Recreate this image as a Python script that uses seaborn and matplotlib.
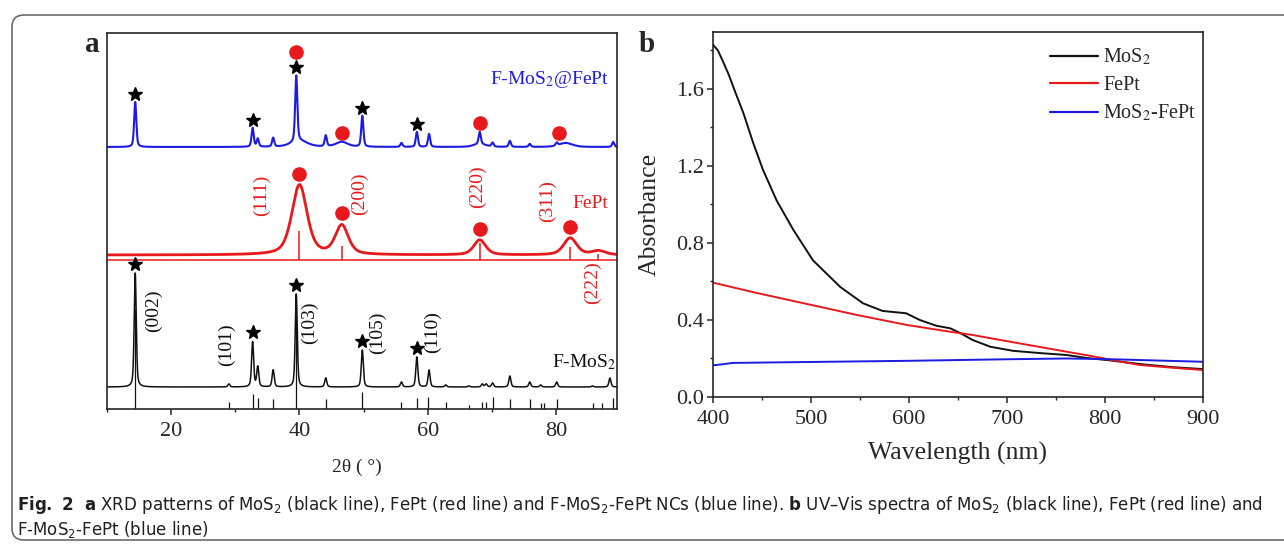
import numpy as np
import pandas as pd
import matplotlib
matplotlib.use("Agg")
import matplotlib.pyplot as plt
import matplotlib.transforms as mtransforms
from matplotlib import font_manager
from matplotlib.patches import FancyBboxPatch
from matplotlib.ticker import MultipleLocator, FormatStrFormatter
import seaborn as sns

# ---------------- panel a: XRD patterns ----------------
# F-MoS2 reflections (2theta in degrees, intensity in a.u.)
mos2_peak_pos = [14.4, 29.0, 32.7, 33.5, 35.9, 39.5, 44.1, 49.8, 55.9, 58.3,
                 60.2, 62.8, 66.4, 68.5, 69.1, 70.1, 72.8, 75.9, 77.6, 80.1,
                 85.7, 88.4]
mos2_peak_int = [114, 3, 45, 20, 17, 93, 9, 37, 5, 30,
                 17, 2, 1, 3, 3, 4, 11, 5, 2, 5,
                 1, 9]
# MoS2 reference stick pattern
mos2_ref_pos = [14.4, 29.0, 32.7, 33.5, 35.9, 39.5, 44.2, 49.8, 55.9, 58.3,
                60.1, 62.8, 66.5, 68.5, 69.1, 70.1, 72.8, 75.9, 77.6, 78.1,
                80.1, 85.7, 87.1, 88.9]
mos2_ref_int = [100, 7, 15, 11, 10, 90, 10, 17, 7, 11,
                12, 7, 4, 7, 7, 12, 10, 10, 6, 6,
                10, 6, 6, 11]

# FePt nanocrystals (fcc)
fept_peak_pos = [40.0, 46.6, 68.1, 82.2, 86.6]
fept_peak_int = [70, 29, 15, 17, 4]
fept_peak_fwhm = [2.8, 2.4, 2.2, 2.4, 2.5]
fept_ref_pos = [40.0, 46.6, 68.1, 82.2, 86.6]
fept_ref_int = [29, 14, 17, 13, 6]
fept_hkl = ["(111)", "(200)", "(220)", "(311)", "(222)"]

# F-MoS2@FePt composite
hybrid_peak_pos = [14.4, 32.7, 33.5, 35.9, 39.5, 44.1, 49.8, 55.9, 58.3, 60.2,
                   68.1, 70.1, 72.8, 75.9, 80.1, 88.9, 40.0, 46.6, 68.1, 81.5]
hybrid_peak_int = [45, 19, 8, 9, 66, 11, 31, 4, 15, 13,
                   12, 4, 6, 3, 3, 5, 6, 5, 3, 4]
hybrid_peak_fwhm = [0.4, 0.4, 0.4, 0.4, 0.4, 0.4, 0.4, 0.4, 0.4, 0.4,
                    0.4, 0.4, 0.4, 0.4, 0.4, 0.4, 3.0, 2.2, 2.2, 2.5]

mos2_star_pos = [14.4, 32.7, 39.5, 49.8, 58.3]
hybrid_star_pos = [14.4, 32.7, 39.5, 49.8, 58.3]
hybrid_dot_pos = [39.5, 46.6, 68.1, 80.5]
fept_dot_pos = [40.0, 46.6, 68.1, 82.2]
mos2_hkl = ["(002)", "(101)", "(103)", "(105)", "(110)"]

# ---------------- panel b: UV-Vis spectra ----------------
mos2_wl = [400, 405, 410, 416, 423, 431, 441, 451, 465, 482, 502, 530, 553, 573,
           597, 611, 628, 642, 652, 665, 683, 706, 734, 761, 782, 802, 836, 869, 900]
mos2_abs = [1.83, 1.80, 1.745, 1.675, 1.58, 1.475, 1.32, 1.18, 1.02, 0.868,
            0.71, 0.571, 0.487, 0.447, 0.435, 0.40, 0.37, 0.357, 0.333, 0.296,
            0.261, 0.24, 0.228, 0.218, 0.202, 0.192, 0.171, 0.155, 0.145]
fept_wl = [400, 445, 496, 547, 598, 642, 665, 700, 750, 798, 802, 836, 869, 900]
fept_abs = [0.594, 0.54, 0.483, 0.426, 0.374, 0.339, 0.322, 0.29, 0.245, 0.202,
            0.196, 0.166, 0.152, 0.14]
hybrid_wl = [400, 410, 420, 500, 600, 700, 760, 800, 850, 900]
hybrid_abs = [0.165, 0.17, 0.177, 0.182, 0.188, 0.196, 0.2, 0.197, 0.19, 0.183]

RED = "#e8191c"
BLUE = "#1c1ce0"
BLACK = "#111111"

W, H = 1284, 544

sns.set_style("ticks")
plt.rcParams["font.family"] = ["Liberation Serif", "DejaVu Serif"]
plt.rcParams["mathtext.fontset"] = "stix"
plt.rcParams["axes.linewidth"] = 1.2


def condensed_available():
    try:
        path = font_manager.findfont(
            font_manager.FontProperties(family="DejaVu Sans", stretch="condensed"),
            fallback_to_default=False)
        return "Condensed" in path
    except Exception:
        return False


if condensed_available():
    cap_family, cap_stretch = "DejaVu Sans", "condensed"
    plt.rcParams["mathtext.rm"] = "DejaVu Sans:stretch=condensed"
    plt.rcParams["mathtext.bf"] = "DejaVu Sans:stretch=condensed:weight=bold"
else:
    cap_family, cap_stretch = "Liberation Sans", "normal"
    plt.rcParams["mathtext.rm"] = "Liberation Sans"
    plt.rcParams["mathtext.bf"] = "Liberation Sans:bold"

fig = plt.figure(figsize=(W / 100, H / 100), dpi=100)
fig.patch.set_facecolor("white")


def box(l, t, r, b):
    return [l / W, 1 - b / H, (r - l) / W, (b - t) / H]


def fxy(x, y):
    return x / W, 1 - y / H


def pv(x, c, h, w, eta=0.45):
    u = (x - c) / w
    return h * (eta / (1 + 4 * u ** 2) + (1 - eta) * np.exp(-4 * np.log(2) * u ** 2))


# ------------- panel a -------------
ax = fig.add_axes(box(107, 33, 617, 409))
tt = np.linspace(10, 89.5, 6000)

base_mos2, base_fept, line_fept, base_hyb = 22, 154, 149, 262

mos2_trace = base_mos2 + sum(pv(tt, c, h, 0.38) for c, h in zip(mos2_peak_pos, mos2_peak_int))
fept_trace = base_fept + sum(pv(tt, c, h, w, 0.5) for c, h, w in
                             zip(fept_peak_pos, fept_peak_int, fept_peak_fwhm))
hyb_trace = base_hyb + sum(pv(tt, c, h, w) for c, h, w in
                           zip(hybrid_peak_pos, hybrid_peak_int, hybrid_peak_fwhm))

df_a = pd.DataFrame({"tt": tt, "mos2": mos2_trace, "fept": fept_trace, "hyb": hyb_trace})
sns.lineplot(data=df_a, x="tt", y="mos2", ax=ax, color=BLACK, lw=1.1, estimator=None)
sns.lineplot(data=df_a, x="tt", y="fept", ax=ax, color=RED, lw=2.0, estimator=None)
sns.lineplot(data=df_a, x="tt", y="hyb", ax=ax, color=BLUE, lw=1.5, estimator=None)

# reference stick patterns
ax.vlines(mos2_ref_pos, 0, mos2_ref_int, color=BLACK, lw=0.9)
ax.axhline(line_fept, color=RED, lw=1.1)
ax.vlines(fept_ref_pos, line_fept, [line_fept + v for v in fept_ref_int], color=RED, lw=1.1)


def top_of(trace, x0, half=0.6):
    m = (tt > x0 - half) & (tt < x0 + half)
    return trace[m].max()


star_kw = dict(marker="*", ls="", color="black", ms=10, mec="black")
dot_kw = dict(marker="o", ls="", color=RED, ms=9.5, mec=RED)

ax.plot(mos2_star_pos, [top_of(mos2_trace, p) + 9 for p in mos2_star_pos], **star_kw)
hyb_star_y = [top_of(hyb_trace, p) + 8 for p in hybrid_star_pos]
ax.plot(hybrid_star_pos, hyb_star_y, **star_kw)
hyb_dot_y = []
for p in hybrid_dot_pos:
    if p in hybrid_star_pos:
        hyb_dot_y.append(hyb_star_y[hybrid_star_pos.index(p)] + 15)
    else:
        hyb_dot_y.append(top_of(hyb_trace, p, 1.2) + 9)
ax.plot(hybrid_dot_pos, hyb_dot_y, **dot_kw)
ax.plot(fept_dot_pos, [top_of(fept_trace, p) + 11 for p in fept_dot_pos], **dot_kw)

lab_fs = 14
for s, x, y in zip(mos2_hkl, [17.2, 28.7, 41.6, 52.1, 60.7], [98, 64, 86, 76, 77]):
    ax.text(x, y, s, rotation=90, ha="center", va="center", fontsize=lab_fs, color=BLACK)
for s, x, y in zip(fept_hkl, [34.1, 49.3, 67.7, 78.6, 85.6], [214, 215, 222, 208, 126]):
    ax.text(x, y, s, rotation=90, ha="center", va="center", fontsize=lab_fs, color=RED)
ax.text(84.3, 47, "F-MoS$_2$", ha="center", va="center", fontsize=lab_fs, color=BLACK)
ax.text(85.4, 206, "FePt", ha="center", va="center", fontsize=lab_fs, color=RED)
ax.text(79.0, 329, "F-MoS$_2$@FePt", ha="center", va="center", fontsize=lab_fs, color=BLUE)

ax.set_xlim(10, 89.5)
ax.set_ylim(0, 376)
ax.set_yticks([])
ax.xaxis.set_major_locator(MultipleLocator(20))
ax.xaxis.set_minor_locator(MultipleLocator(10))
ax.tick_params(axis="x", which="major", direction="out", length=4, width=1.1,
               labelsize=16, pad=5, top=False)
ax.tick_params(axis="x", which="minor", direction="out", length=2.5, width=1.0, top=False)
ax.set_xlabel("")
ax.set_ylabel("")
for sp in ax.spines.values():
    sp.set_visible(True)
    sp.set_linewidth(1.2)

# ------------- panel b -------------
bx = fig.add_axes(box(713, 32, 1203, 397))
df_b = pd.concat([
    pd.DataFrame({"wl": mos2_wl, "A": mos2_abs, "sample": "MoS$_2$"}),
    pd.DataFrame({"wl": fept_wl, "A": fept_abs, "sample": "FePt"}),
    pd.DataFrame({"wl": hybrid_wl, "A": hybrid_abs, "sample": "MoS$_2$-FePt"}),
], ignore_index=True)
sns.lineplot(data=df_b, x="wl", y="A", hue="sample", ax=bx, estimator=None, sort=False,
             palette={"MoS$_2$": BLACK, "FePt": RED, "MoS$_2$-FePt": BLUE}, lw=1.4)
bx.set_xlim(400, 900)
bx.set_ylim(0, 1.896)
bx.xaxis.set_major_locator(MultipleLocator(100))
bx.xaxis.set_minor_locator(MultipleLocator(50))
bx.yaxis.set_major_locator(MultipleLocator(0.4))
bx.yaxis.set_minor_locator(MultipleLocator(0.2))
bx.yaxis.set_major_formatter(FormatStrFormatter("%.1f"))
bx.tick_params(which="major", direction="out", length=4.5, width=1.1, labelsize=16, pad=2,
               top=False, right=False)
bx.tick_params(axis="x", which="major", pad=5)
bx.tick_params(which="minor", direction="out", length=2.5, width=1.0, top=False, right=False)
bx.set_xlabel("")
bx.set_ylabel("")
for sp in bx.spines.values():
    sp.set_visible(True)
    sp.set_linewidth(1.2)

handles, labels = bx.get_legend_handles_labels()
leg = bx.legend(handles, labels, loc="upper left", bbox_to_anchor=fxy(1050, 47),
                bbox_transform=fig.transFigure, frameon=False, handlelength=2.4,
                handletextpad=0.25, labelspacing=0.4, borderpad=0, borderaxespad=0,
                fontsize=14.5)
for ln in leg.get_lines():
    ln.set_linewidth(1.6)

# axis titles and panel letters
fig.text(*fxy(357, 467), "2θ ( °)", ha="center", va="center", fontsize=14)
fig.text(*fxy(958, 453), "Wavelength (nm)", ha="center", va="center", fontsize=18.5)
fig.text(*fxy(650, 214), "Absorbance", ha="center", va="center", rotation=90, fontsize=18.5)
fig.text(*fxy(92, 45), "a", ha="center", va="center", fontsize=21, fontweight="bold")
fig.text(*fxy(647, 45), "b", ha="center", va="center", fontsize=21, fontweight="bold")

# caption
cap1 = (r"$\mathbf{Fig.\ 2}$  $\mathbf{a}$ XRD patterns of MoS$_2$ (black line), FePt (red line) "
        r"and F-MoS$_2$-FePt NCs (blue line). $\mathbf{b}$ UV–Vis spectra of MoS$_2$ "
        r"(black line), FePt (red line) and")
cap2 = r"F-MoS$_2$-FePt (blue line)"
cap_kw = dict(ha="left", va="center", fontsize=14, family=cap_family, fontstretch=cap_stretch,
              math_fontfamily="custom", color="#231f20")
c1 = fig.text(*fxy(17, 505), cap1, **cap_kw)
c2 = fig.text(*fxy(17, 530), cap2, **cap_kw)
fig.canvas.draw()
rend = fig.canvas.get_renderer()
wpx = c1.get_window_extent(rend).width
scale = 1248 / wpx
c1.set_fontsize(14 * scale)
c2.set_fontsize(14 * scale)

# rounded frame around the figure
frame = FancyBboxPatch((12, H - 540), 1300, 525, boxstyle="round,pad=0,rounding_size=12",
                       transform=mtransforms.IdentityTransform(), fill=False,
                       ec="#6b6b6b", lw=1.2)
fig.add_artist(frame)

fig.savefig("out.png", dpi=100)
